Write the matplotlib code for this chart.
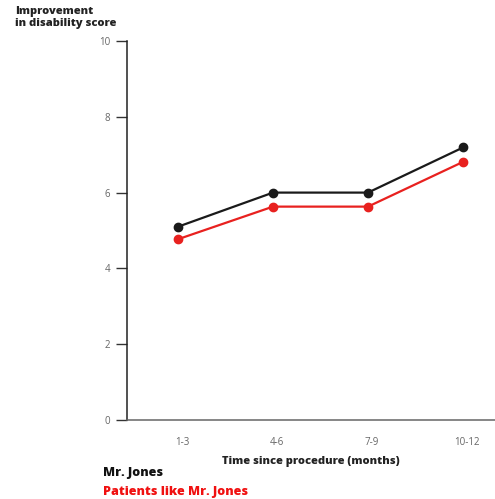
import matplotlib
matplotlib.use("Agg")
import matplotlib.pyplot as plt
from matplotlib.transforms import ScaledTranslation

categories = ["1-3", "4-6", "7-9", "10-12"]
mr_jones = [5.10, 6.0, 6.0, 7.19]
patients_like = [4.77, 5.63, 5.63, 6.81]
yticks = [0, 2, 4, 6, 8, 10]

plt.rcParams['font.family'] = ['Open Sans', 'DejaVu Sans']

fig = plt.figure(figsize=(4.95, 4.99), dpi=100)
ax = fig.add_axes([127/495, 79/499, 368/495, 379/499])

x = list(range(len(categories)))
ax.plot(x, mr_jones, color="#1a1a1a", lw=1.6, marker="o", ms=6, zorder=3)
ax.plot(x, patients_like, color="#e8211f", lw=1.6, marker="o", ms=6, zorder=3)

ax.set_xlim(-0.537, 3.337)
ax.set_ylim(0, 10)
ax.set_yticks(yticks)
ax.set_xticks(x)
ax.set_xticklabels(categories)
ax.tick_params(axis='y', direction='out', length=8, width=1, colors='#333333', labelcolor='#666666', labelsize=7, pad=4)
ax.tick_params(axis='x', length=0, labelcolor='#666666', labelsize=7, pad=12)
off = ScaledTranslation(4/100, 0, fig.dpi_scale_trans)
for lab in ax.get_xticklabels():
    lab.set_transform(lab.get_transform() + off)
for s in ['top', 'right']:
    ax.spines[s].set_visible(False)
ax.spines['left'].set_color('#222222')
ax.spines['bottom'].set_color('#666666')
ax.spines['left'].set_linewidth(1.1)
ax.spines['bottom'].set_linewidth(1.1)

ax.set_xlabel("Time since procedure (months)", fontsize=8, fontweight='heavy', color='#222222', labelpad=6)

fig.text(15/495, 1 - 6/499, "Improvement\nin disability score", fontsize=8, fontweight='heavy',
         color='#222222', ha='left', va='top', linespacing=1.1)
fig.text(103/495, 1 - 473/499, "Mr. Jones", fontsize=9, fontweight='heavy', color='#111111', ha='left', va='center')
fig.text(103/495, 1 - 492/499, "Patients like Mr. Jones", fontsize=9, fontweight='heavy', color='#f01010', ha='left', va='center')

fig.savefig("out.png", dpi=100)
